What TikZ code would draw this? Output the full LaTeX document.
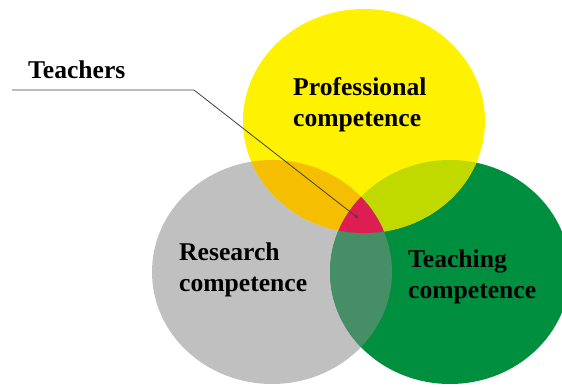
\documentclass[tikz,border=0pt]{standalone}
\usepackage{fontspec}
\setmainfont{Liberation Serif}
\usepackage{xcolor}
\usepackage{tikz}
\usetikzlibrary{arrows}
\definecolor{profyellow}{RGB}{255,242,0}
\definecolor{resgray}{RGB}{192,192,192}
\definecolor{teachgreen}{RGB}{0,143,62}
\definecolor{profres}{RGB}{246,190,0}
\definecolor{profteach}{RGB}{192,218,0}
\definecolor{resteach}{RGB}{70,142,102}
\definecolor{coremix}{RGB}{222,30,82}
\tikzstyle{caption} = [inner sep=0pt, anchor=north west, align=left, font=\bfseries\fontsize{25.6}{31}\selectfont]
\tikzstyle{arrow} = [line width=0.8pt, draw=black!75, ->, >=stealth]

\begin{document}
\begin{tikzpicture}[x=1pt, y=-1pt]
    \useasboundingbox (0,0) rectangle (562,387);
    \clip (0,0) rectangle (562,387);
    % the three circles
    \fill[resgray] (272,272) ellipse [x radius=120, y radius=112];
    \fill[teachgreen] (450,272) ellipse [x radius=120, y radius=112];
    \fill[profyellow] (364,121) ellipse [x radius=121, y radius=112];
    % pairwise overlaps
    \begin{scope}
        \clip (364,121) ellipse [x radius=121, y radius=112];
        \fill[profres] (272,272) ellipse [x radius=120, y radius=112];
        \fill[profteach] (450,272) ellipse [x radius=120, y radius=112];
    \end{scope}
    \begin{scope}
        \clip (272,272) ellipse [x radius=120, y radius=112];
        \fill[resteach] (450,272) ellipse [x radius=120, y radius=112];
        % all three
        \clip (450,272) ellipse [x radius=120, y radius=112];
        \fill[coremix] (364,121) ellipse [x radius=121, y radius=112];
    \end{scope}
    \node (prof) [caption] at (293,77) {Professional\\competence};
    \node (research) [caption] at (179,243) {Research\\competence};
    \node (teaching) [caption] at (408,250) {Teaching\\competence};
    \node (teachers) [caption] at (28,61) {Teachers};
    \coordinate (lineend) at (12,90);
    \coordinate (bend) at (194,90);
    \coordinate (core) at (358,218);
    \draw [arrow] (lineend) -- (bend) -- (core);
\end{tikzpicture}
\end{document}
